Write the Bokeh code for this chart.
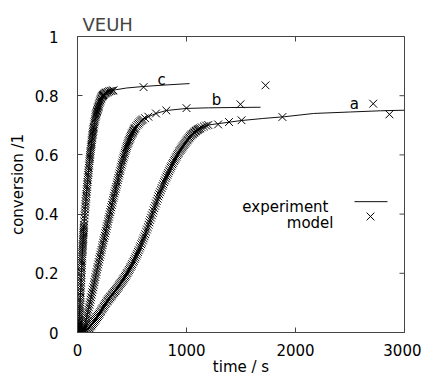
from bokeh.plotting import figure
from bokeh.models import Range1d, FixedTicker, Label
from bokeh.embed import file_html
from bokeh.resources import INLINE

# ---------------- data ----------------
x_ticks = [0, 1000, 2000, 3000]
x_tick_labels = ["0", "1000", "2000", "3000"]
y_ticks = [0, 0.2, 0.4, 0.6, 0.8, 1]
y_tick_labels = ["0", "0.2", "0.4", "0.6", "0.8", "1"]

# experiment (lines)
exp_c_t = [0, 10, 20, 30, 40, 50, 60, 80, 100, 120, 150, 180, 210, 240, 280, 350, 450, 600, 800, 1028]
exp_c_y = [0, 0.02, 0.073, 0.152, 0.235, 0.305, 0.364, 0.46, 0.54, 0.613, 0.697, 0.748, 0.784, 0.804,
           0.813, 0.82, 0.826, 0.831, 0.836, 0.841]
exp_b_t = [0, 40, 60, 90, 150, 200, 300, 400, 450, 500, 550, 600, 650, 720, 815, 1000, 1200, 1400, 1679]
exp_b_y = [0, 0.001, 0.015, 0.06, 0.162, 0.247, 0.407, 0.56, 0.625, 0.672, 0.702, 0.72, 0.729, 0.740,
           0.750, 0.757, 0.759, 0.760, 0.761]
exp_a_t = [0, 60, 150, 270, 400, 500, 600, 700, 800, 900, 1000, 1100, 1200, 1300, 1500, 1700, 1900,
           2167, 2505, 2780, 3000]
exp_a_y = [0, 0, 0.036, 0.105, 0.168, 0.229, 0.311, 0.415, 0.512, 0.589, 0.646, 0.684, 0.701, 0.706,
           0.716, 0.723, 0.729, 0.740, 0.745, 0.749, 0.751]

# model (x markers)
mod_c_t = [0, 1, 2, 3, 4, 5, 6, 7, 8, 9,
           10, 11, 12, 13, 14, 15, 16, 17, 18, 19,
           20, 21, 22, 23, 24, 25, 26, 27, 28, 29,
           30, 31, 32, 33, 34, 35, 36, 37, 38, 39,
           40, 41, 42, 43, 44, 45, 46, 47, 48, 49,
           50, 51, 52, 53, 54, 55, 56, 57, 58, 59,
           60, 62, 64, 66, 68, 70, 72, 74, 76, 78,
           80, 82, 84, 86, 88, 90, 92, 94, 96, 98,
           100, 102, 104, 106, 108, 110, 112, 114, 116, 118,
           120, 122, 124, 126, 128, 130, 132, 134, 136, 138,
           140, 142, 144, 146, 148, 150, 153, 156, 159, 162,
           165, 168, 171, 174, 177, 180, 183, 186, 189, 192,
           195, 198, 202, 206, 210, 214, 218, 222, 226, 230,
           235, 240, 246, 252, 260, 270, 280, 292, 305, 318,
           330, 606]
mod_c_y = [0, 0.001, 0.002, 0.003, 0.005, 0.007, 0.009, 0.011, 0.014, 0.017,
           0.02, 0.024, 0.028, 0.032, 0.037, 0.042, 0.048, 0.054, 0.06, 0.066,
           0.073, 0.08, 0.087, 0.094, 0.102, 0.11, 0.118, 0.126, 0.135, 0.143,
           0.152, 0.16, 0.169, 0.177, 0.186, 0.194, 0.203, 0.211, 0.219, 0.227,
           0.235, 0.242, 0.25, 0.257, 0.265, 0.272, 0.279, 0.285, 0.292, 0.298,
           0.305, 0.311, 0.317, 0.323, 0.329, 0.335, 0.341, 0.347, 0.353, 0.358,
           0.364, 0.375, 0.386, 0.396, 0.406, 0.416, 0.425, 0.434, 0.443, 0.452,
           0.46, 0.468, 0.476, 0.484, 0.492, 0.5, 0.508, 0.516, 0.524, 0.532,
           0.54, 0.548, 0.556, 0.564, 0.571, 0.579, 0.586, 0.593, 0.6, 0.607,
           0.613, 0.62, 0.626, 0.632, 0.638, 0.644, 0.65, 0.656, 0.661, 0.667,
           0.672, 0.677, 0.682, 0.687, 0.692, 0.696, 0.703, 0.71, 0.716, 0.722,
           0.728, 0.733, 0.737, 0.741, 0.745, 0.748, 0.752, 0.756, 0.76, 0.763,
           0.767, 0.771, 0.776, 0.78, 0.784, 0.788, 0.791, 0.795, 0.798, 0.8,
           0.802, 0.804, 0.806, 0.808, 0.81, 0.811, 0.813, 0.815, 0.816, 0.817,
           0.818, 0.829]

mod_b_t = [0, 10, 20, 30, 40, 45, 50, 55, 60, 65,
           70, 75, 80, 85, 90, 95, 100, 105, 110, 115,
           120, 125, 130, 135, 140, 145, 150, 155, 160, 165,
           170, 175, 180, 185, 190, 195, 200, 205, 210, 215,
           220, 225, 230, 235, 240, 245, 250, 255, 260, 265,
           270, 275, 280, 285, 290, 295, 300, 305, 310, 315,
           320, 325, 330, 335, 340, 345, 350, 355, 360, 365,
           370, 375, 380, 385, 390, 395, 400, 405, 410, 415,
           420, 425, 430, 435, 440, 445, 450, 455, 460, 465,
           470, 475, 480, 485, 490, 495, 500, 505, 510, 515,
           520, 525, 530, 540, 550, 560, 570, 580, 590, 600,
           620, 650, 720, 815, 1000, 1495, 1725]
mod_b_y = [0, 0, 0, 0, 0.001, 0.003, 0.006, 0.01, 0.015, 0.021,
           0.027, 0.035, 0.043, 0.051, 0.06, 0.068, 0.077, 0.085, 0.094, 0.102,
           0.111, 0.119, 0.128, 0.136, 0.145, 0.153, 0.162, 0.17, 0.179, 0.187,
           0.196, 0.204, 0.213, 0.221, 0.23, 0.238, 0.247, 0.255, 0.263, 0.271,
           0.279, 0.287, 0.295, 0.303, 0.311, 0.319, 0.327, 0.335, 0.343, 0.351,
           0.359, 0.367, 0.375, 0.383, 0.391, 0.399, 0.407, 0.415, 0.423, 0.431,
           0.439, 0.447, 0.455, 0.462, 0.47, 0.477, 0.485, 0.492, 0.5, 0.507,
           0.515, 0.522, 0.53, 0.537, 0.545, 0.552, 0.56, 0.567, 0.574, 0.581,
           0.588, 0.594, 0.601, 0.607, 0.613, 0.619, 0.625, 0.63, 0.636, 0.641,
           0.646, 0.65, 0.655, 0.659, 0.664, 0.668, 0.672, 0.675, 0.679, 0.682,
           0.686, 0.689, 0.692, 0.697, 0.702, 0.706, 0.71, 0.714, 0.717, 0.72,
           0.724, 0.729, 0.740, 0.750, 0.758, 0.771, 0.835]

mod_a_t = [0, 20, 40, 60, 67, 75, 82, 90, 97, 105,
           112, 120, 127, 135, 142, 150, 157, 165, 172, 180,
           187, 195, 202, 210, 217, 225, 232, 240, 247, 255,
           262, 270, 277, 285, 292, 300, 307, 315, 322, 330,
           337, 345, 352, 360, 367, 375, 382, 390, 397, 405,
           412, 420, 427, 435, 442, 450, 457, 465, 472, 480,
           487, 495, 502, 510, 517, 525, 532, 540, 547, 555,
           562, 570, 577, 585, 592, 600, 607, 615, 622, 630,
           637, 645, 652, 660, 667, 675, 682, 690, 697, 705,
           712, 720, 727, 735, 742, 750, 757, 765, 772, 780,
           787, 795, 802, 810, 817, 825, 832, 840, 847, 855,
           862, 870, 877, 885, 892, 900, 907, 915, 922, 930,
           937, 945, 952, 960, 967, 975, 982, 990, 997, 1005,
           1012, 1020, 1027, 1035, 1042, 1050, 1057, 1065, 1072, 1080,
           1087, 1095, 1102, 1110, 1117, 1125, 1140, 1160, 1180, 1200,
           1290, 1390, 1505, 1880, 2713, 2862]
mod_a_y = [0, 0, 0, 0, 0.002, 0.004, 0.006, 0.009, 0.012, 0.015,
           0.018, 0.021, 0.024, 0.028, 0.032, 0.036, 0.04, 0.044, 0.048, 0.052,
           0.056, 0.06, 0.064, 0.069, 0.073, 0.078, 0.082, 0.087, 0.091, 0.096,
           0.1, 0.105, 0.108, 0.112, 0.115, 0.119, 0.122, 0.126, 0.129, 0.133,
           0.136, 0.14, 0.143, 0.147, 0.151, 0.155, 0.159, 0.163, 0.167, 0.171,
           0.175, 0.179, 0.183, 0.188, 0.192, 0.197, 0.201, 0.206, 0.211, 0.216,
           0.221, 0.226, 0.231, 0.237, 0.242, 0.248, 0.254, 0.26, 0.266, 0.272,
           0.278, 0.285, 0.291, 0.298, 0.304, 0.311, 0.318, 0.325, 0.332, 0.34,
           0.348, 0.356, 0.364, 0.372, 0.38, 0.388, 0.396, 0.404, 0.412, 0.42,
           0.428, 0.436, 0.444, 0.452, 0.46, 0.467, 0.474, 0.481, 0.488, 0.495,
           0.501, 0.508, 0.514, 0.521, 0.527, 0.533, 0.539, 0.545, 0.551, 0.557,
           0.562, 0.568, 0.573, 0.579, 0.584, 0.589, 0.594, 0.599, 0.604, 0.608,
           0.613, 0.617, 0.621, 0.625, 0.629, 0.633, 0.637, 0.641, 0.645, 0.649,
           0.652, 0.656, 0.659, 0.663, 0.666, 0.669, 0.671, 0.674, 0.676, 0.679,
           0.681, 0.683, 0.685, 0.687, 0.688, 0.69, 0.693, 0.696, 0.699, 0.701,
           0.703, 0.711, 0.717, 0.728, 0.773, 0.737]

curve_names = ["a", "b", "c"]
curve_label_t = [2541, 1275, 771]
curve_label_y = [0.771, 0.785, 0.852]

legend_names = ["experiment", "model"]

for _t, _y in [(mod_a_t, mod_a_y), (mod_b_t, mod_b_y), (mod_c_t, mod_c_y),
               (exp_a_t, exp_a_y), (exp_b_t, exp_b_y), (exp_c_t, exp_c_y)]:
    assert len(_t) == len(_y), (len(_t), len(_y))

# ---------------- styling ----------------
FONT = "DejaVu Sans"
AX = "#444444"
MSIZE = 11
X0, X1, Y0, Y1 = 0, 3000, 0, 1
FRAME_W, FRAME_H = 327, 297
TICK_PX = 5

p = figure(width=421, height=378, x_range=Range1d(X0, X1), y_range=Range1d(Y0, Y1),
           output_backend="svg", toolbar_location=None,
           min_border_left=77, min_border_right=17, min_border_top=36, min_border_bottom=45)
p.grid.visible = False
p.outline_line_color = AX
p.background_fill_color = "white"
p.border_fill_color = "white"

p.title.text = "VEUH"
p.title.text_font = FONT
p.title.text_font_size = "18px"
p.title.text_font_style = "normal"
p.title.align = "left"
p.title.offset = 5
p.title.standoff = 3


def style_axis(ax, ticks, labels, standoff):
    ax.ticker = FixedTicker(ticks=ticks)
    ax.major_label_overrides = {t: l for t, l in zip(ticks, labels)}
    ax.major_tick_in = TICK_PX
    ax.major_tick_out = 0
    ax.minor_tick_in = 0
    ax.minor_tick_out = 0
    ax.axis_line_color = AX
    ax.major_tick_line_color = AX
    ax.major_label_standoff = standoff
    ax.major_label_text_font = FONT
    ax.major_label_text_font_size = "15px"
    ax.major_label_text_color = "black"
    ax.axis_label_text_font = FONT
    ax.axis_label_text_font_size = "15px"
    ax.axis_label_text_font_style = "normal"
    ax.axis_label_text_color = "black"


style_axis(p.xaxis[0], x_ticks, x_tick_labels, 11)
style_axis(p.yaxis[0], y_ticks, y_tick_labels, 19)
p.xaxis[0].axis_label = "time / s"
p.xaxis[0].axis_label_standoff = -1
p.yaxis[0].axis_label = "conversion /1"
p.yaxis[0].axis_label_standoff = 5

# inward ticks on top and right edges (mirrors of the axis ticks)
dy_tick = TICK_PX * (Y1 - Y0) / FRAME_H
dx_tick = TICK_PX * (X1 - X0) / FRAME_W
p.segment(x0=x_ticks, y0=[Y1] * len(x_ticks), x1=x_ticks, y1=[Y1 - dy_tick] * len(x_ticks),
          line_color=AX, line_width=1)
p.segment(x0=[X1] * len(y_ticks), y0=y_ticks, x1=[X1 - dx_tick] * len(y_ticks), y1=y_ticks,
          line_color=AX, line_width=1)

# experiment lines
for t, y in [(exp_a_t, exp_a_y), (exp_b_t, exp_b_y), (exp_c_t, exp_c_y)]:
    p.line(t, y, line_color="#111111", line_width=1)

# model markers
for t, y in [(mod_a_t, mod_a_y), (mod_b_t, mod_b_y), (mod_c_t, mod_c_y)]:
    p.scatter(t, y, marker="x", size=MSIZE, line_color="black", line_width=1)

# curve letters
for name, t, y in zip(curve_names, curve_label_t, curve_label_y):
    p.add_layout(Label(x=t, y=y, text=name, text_font=FONT, text_font_size="15px",
                       text_align="center", text_baseline="alphabetic", text_color="black"))

# manual legend (text left of sample)
p.add_layout(Label(x=251, y=126, x_units="screen", y_units="screen", text=legend_names[0],
                   text_font=FONT, text_font_size="15px", text_align="right",
                   text_baseline="alphabetic", text_color="black"))
p.add_layout(Label(x=256, y=110, x_units="screen", y_units="screen", text=legend_names[1],
                   text_font=FONT, text_font_size="15px", text_align="right",
                   text_baseline="alphabetic", text_color="black"))
p.line([2541, 2844], [0.442, 0.442], line_color="#111111", line_width=1)
p.scatter([2688], [0.392], marker="x", size=MSIZE, line_color="black", line_width=1)

open("out.html", "w").write(file_html(p, INLINE))
